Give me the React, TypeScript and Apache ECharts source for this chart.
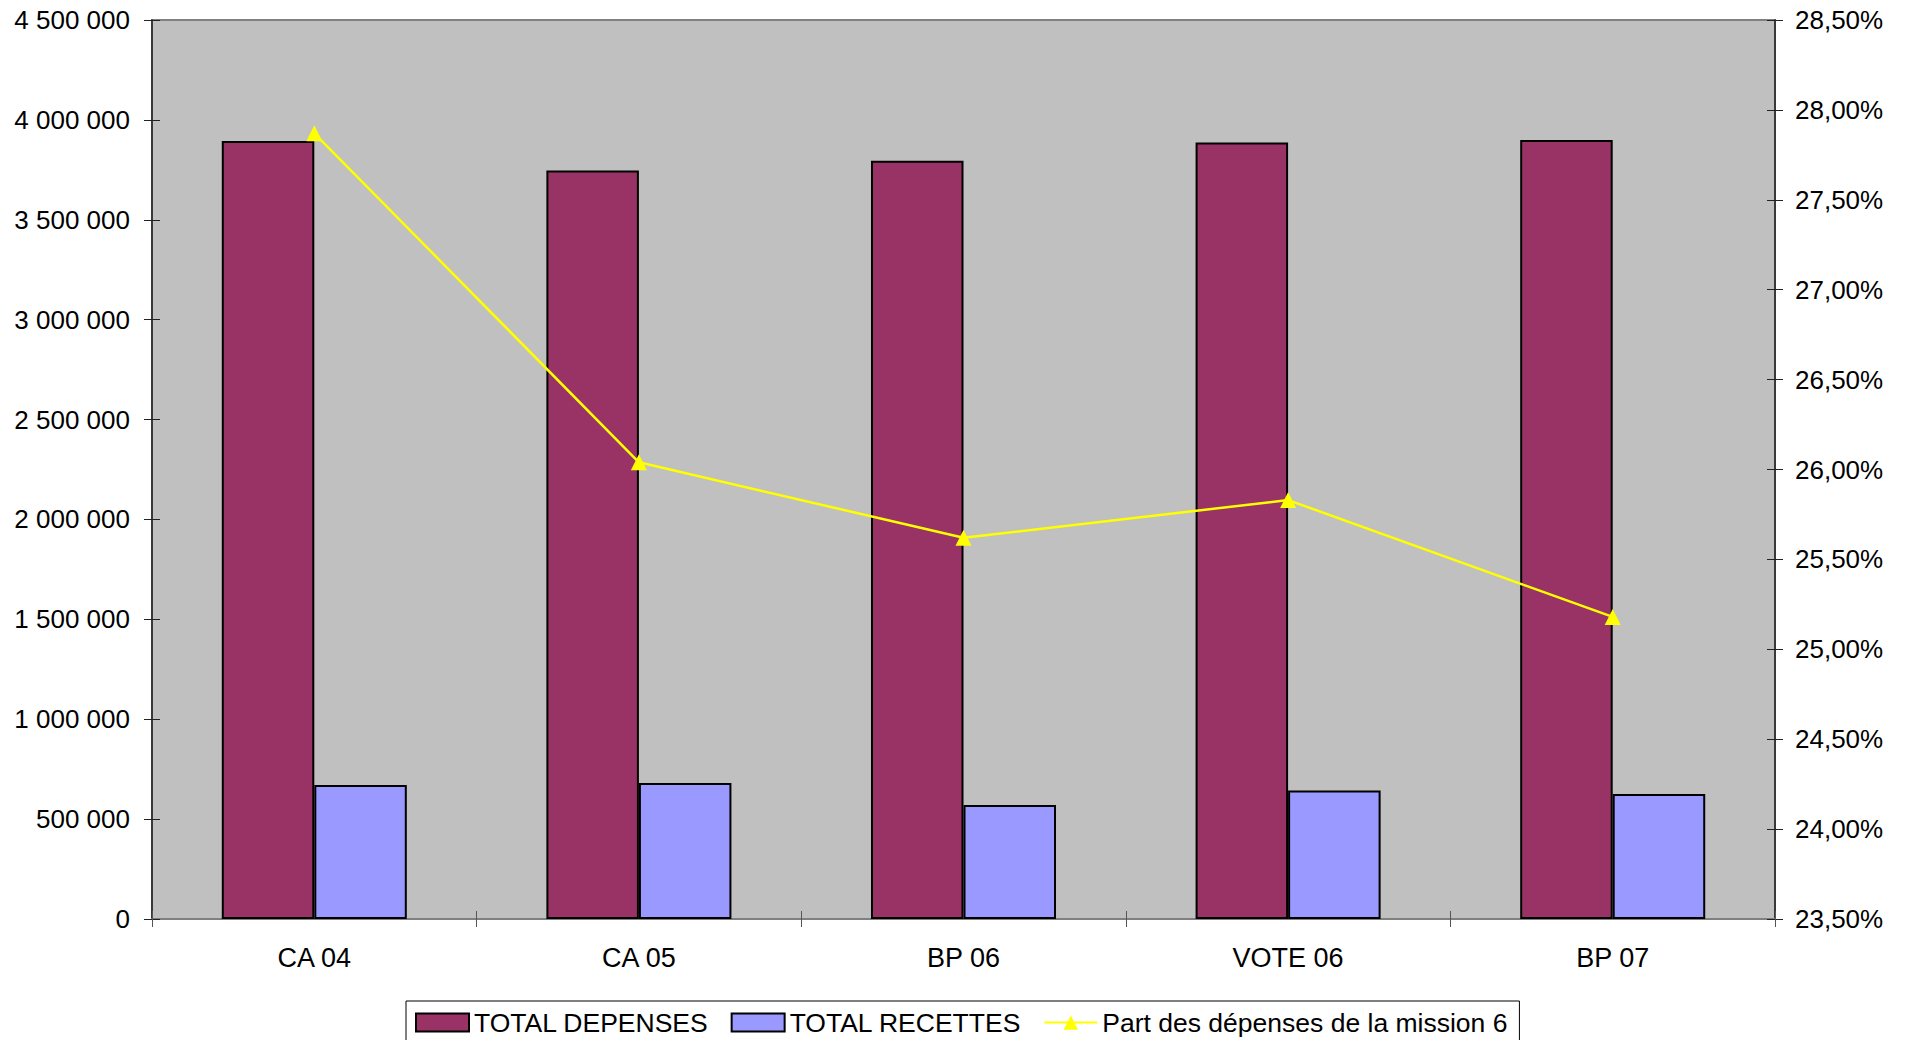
import React, { useEffect, useRef } from "react";
import * as echarts from "echarts";

const categories = ["CA 04", "CA 05", "BP 06", "VOTE 06", "BP 07"];
const totalDepenses = [3894000, 3747000, 3795000, 3887000, 3899000];
const totalRecettes = [671000, 681000, 571000, 643000, 626000];
const partMission6 = [27.87, 26.04, 25.62, 25.83, 25.18];
const seriesNames = ["TOTAL DEPENSES", "TOTAL RECETTES", "Part des dépenses de la mission 6"];

const FONT = "'Liberation Sans', Arial, sans-serif";

function fmtThousands(v: number): string {
  return String(Math.round(v)).replace(/\B(?=(\d{3})+(?!\d))/g, " ");
}
function fmtPct(v: number): string {
  return v.toFixed(2).replace(".", ",") + "%";
}

export default function App() {
  const ref = useRef<HTMLDivElement>(null);
  useEffect(() => {
    if (!ref.current) return;
    const chart = echarts.init(ref.current, undefined, { renderer: "svg" });
    const leftAxisBase = { type: "value", min: 0, max: 4500000, interval: 500000 };
    const rightAxisBase = { type: "value", min: 23.5, max: 28.5, interval: 0.5 };
    chart.setOption({
      animation: false,
      backgroundColor: "#ffffff",
      textStyle: { fontFamily: FONT, color: "#000" },
      grid: {
        left: 152,
        right: 135,
        top: 20,
        bottom: 121,
        show: true,
        backgroundColor: "#C0C0C0",
        borderColor: "#808080",
        borderWidth: 2,
      },
      legend: {
        left: 406,
        top: 1001,
        padding: [8, 12, 8, 9],
        borderColor: "#000",
        borderWidth: 1,
        itemWidth: 53,
        itemHeight: 18,
        itemGap: 22,
        textStyle: { fontFamily: FONT, fontSize: 26.5, color: "#000" },
        data: [
          { name: seriesNames[0], icon: "rect" },
          { name: seriesNames[1], icon: "rect" },
          { name: seriesNames[2] },
        ],
      },
      xAxis: [
        {
          type: "category",
          data: categories,
          position: "bottom",
          axisLine: { show: true, lineStyle: { color: "#808080", width: 2 } },
          axisTick: { show: true, length: 8, lineStyle: { color: "#555" } },
          axisLabel: { fontFamily: FONT, fontSize: 27, color: "#000", margin: 25 },
          splitLine: { show: false },
        },
        {
          type: "category",
          data: categories,
          position: "bottom",
          axisLine: { show: false },
          axisTick: { show: true, inside: true, length: 8, lineStyle: { color: "#555" } },
          axisLabel: { show: false },
          splitLine: { show: false },
        },
      ],
      yAxis: [
        {
          ...leftAxisBase,
          position: "left",
          axisLine: { show: true, lineStyle: { color: "#222", width: 1.5 } },
          axisTick: { show: true, length: 8, lineStyle: { color: "#222" } },
          axisLabel: { fontFamily: FONT, fontSize: 26, color: "#000", margin: 22, formatter: fmtThousands },
          splitLine: { show: false },
        },
        {
          ...rightAxisBase,
          position: "right",
          axisLine: { show: true, lineStyle: { color: "#222", width: 1.5 } },
          axisTick: { show: true, length: 8, lineStyle: { color: "#222" } },
          axisLabel: { fontFamily: FONT, fontSize: 26, color: "#000", margin: 20, formatter: fmtPct },
          splitLine: { show: false },
        },
        {
          ...leftAxisBase,
          position: "left",
          axisLine: { show: false },
          axisTick: { show: true, inside: true, length: 8, lineStyle: { color: "#222" } },
          axisLabel: { show: false },
          splitLine: { show: false },
        },
        {
          ...rightAxisBase,
          position: "right",
          axisLine: { show: false },
          axisTick: { show: true, inside: true, length: 8, lineStyle: { color: "#222" } },
          axisLabel: { show: false },
          splitLine: { show: false },
        },
      ],
      series: [
        {
          name: seriesNames[0],
          type: "bar",
          data: totalDepenses,
          xAxisIndex: 0,
          yAxisIndex: 0,
          barGap: "0%",
          barCategoryGap: "43%",
          itemStyle: { color: "#993366", borderColor: "#000", borderWidth: 2 },
        },
        {
          name: seriesNames[1],
          type: "bar",
          data: totalRecettes,
          xAxisIndex: 0,
          yAxisIndex: 0,
          barGap: "0%",
          barCategoryGap: "43%",
          itemStyle: { color: "#9999FF", borderColor: "#000", borderWidth: 2 },
        },
        {
          name: seriesNames[2],
          type: "line",
          data: partMission6,
          xAxisIndex: 0,
          yAxisIndex: 1,
          symbol: "triangle",
          symbolSize: 16,
          itemStyle: { color: "#FFFF00" },
          lineStyle: { color: "#FFFF00", width: 2.5 },
          z: 5,
        },
      ],
    });
    return () => chart.dispose();
  }, []);
  return (
    <div
      ref={ref}
      style={{ position: "fixed", left: 0, top: 0, width: 1910, height: 1040, background: "#fff" }}
    />
  );
}
